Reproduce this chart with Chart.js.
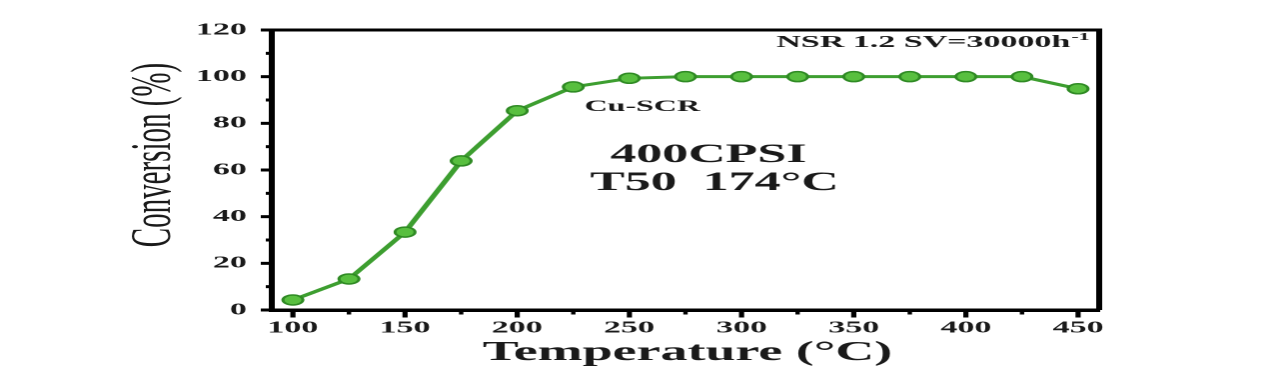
<!DOCTYPE html>
<html><head><meta charset="utf-8">
<script src="https://cdn.jsdelivr.net/npm/chart.js@4/dist/chart.umd.min.js"></script>
<style>
html,body{margin:0;padding:0;background:#fff;overflow:hidden;}
#wrap{position:absolute;left:0;top:0;width:634px;height:384px;transform:scaleX(1.99842);transform-origin:0 0;}
</style></head>
<body><div id="wrap"><canvas id="c"></canvas></div>
<script>
const temperatures = [100,125,150,175,200,225,250,275,300,325,350,375,400,425,450];
const conversion   = [4.3,13.3,33.4,63.9,85.4,95.6,99.3,100,100,100,100,100,100,100,94.8];
const xTickValues  = [100,125,150,175,200,225,250,275,300,325,350,375,400,425,450];
const xTickLabels  = ['100','150','200','250','300','350','400','450'];
const yTickValues  = [0,10,20,30,40,50,60,70,80,90,100,110,120];
const yTickLabels  = ['0','20','40','60','80','100','120'];
const xTitle = 'Temperature (°C)';
const yTitle = 'Conversion (%)';
const noteSV = 'NSR 1.2 SV=30000h';
const noteSup = '-1';
const seriesName = 'Cu-SCR';
const noteCPSI = '400CPSI';
const noteT50 = 'T50  174°C';

const SERIF = '"Liberation Serif","Times New Roman",serif';

const framePlugin = {
  id: 'frame',
  afterDraw(chart) {
    const ctx = chart.ctx, a = chart.chartArea;
    const xs = chart.scales.x, ys = chart.scales.y;
    ctx.save();
    ctx.strokeStyle = '#000';
    // top and right frame
    ctx.lineWidth = 3;
    ctx.beginPath(); ctx.moveTo(a.left, a.top); ctx.lineTo(a.right + 1.5, a.top); ctx.stroke();
    ctx.lineWidth = 3;
    ctx.beginPath(); ctx.moveTo(a.right, a.top); ctx.lineTo(a.right, a.bottom); ctx.stroke();
    // x ticks
    xTickValues.forEach(v => {
      const px = xs.getPixelForValue(v);
      const major = xTickLabels.includes(String(v));
      ctx.lineWidth = major ? 2.6 : 2.2;
      ctx.beginPath(); ctx.moveTo(px, a.bottom); ctx.lineTo(px, a.bottom + (major ? 7.5 : 4.5)); ctx.stroke();
    });
    // y ticks
    yTickValues.forEach(v => {
      const py = ys.getPixelForValue(v);
      const major = yTickLabels.includes(String(v));
      ctx.lineWidth = 3;
      ctx.beginPath(); ctx.moveTo(a.left, py); ctx.lineTo(a.left - (major ? 5.5 : 3), py); ctx.stroke();
    });
    // annotations
    ctx.fillStyle = '#1a1a1a';
    ctx.textBaseline = 'alphabetic';
    ctx.textAlign = 'left';
    ctx.font = 'bold 17px ' + SERIF;
    ctx.fillText(noteSV, 388.5, 47);
    const w = ctx.measureText(noteSV).width;
    ctx.font = 'bold 11px ' + SERIF;
    ctx.fillText(noteSup, 388.5 + w + 0.5, 40);
    ctx.font = 'bold 16px ' + SERIF;
    ctx.fillText(seriesName, 292.5, 111);
    ctx.textAlign = 'center';
    ctx.font = 'bold 26px ' + SERIF;
    ctx.fillText(noteCPSI, 354.5, 162);
    ctx.fillText(noteT50, 357.5, 190);
    // axis titles
    ctx.font = 'bold 27px ' + SERIF;
    ctx.fillText(xTitle, (a.left + a.right) / 2 + 1, 360);
    ctx.save();
    ctx.translate(85, 155);
    ctx.rotate(-Math.PI / 2);
    ctx.font = '29px ' + SERIF;
    ctx.fillText(yTitle, 0, 0);
    ctx.restore();
    ctx.restore();
  }
};

new Chart(document.getElementById('c'), {
  type: 'line',
  data: {
    datasets: [{
      label: seriesName,
      data: temperatures.map((t, i) => ({x: t, y: conversion[i]})),
      borderColor: '#3d9e30',
      borderWidth: 3,
      pointRadius: 5,
      pointBackgroundColor: '#58bf3f',
      pointBorderColor: '#2f8a24',
      pointBorderWidth: 1.5,
      tension: 0
    }]
  },
  options: {
    responsive: true,
    maintainAspectRatio: false,
    devicePixelRatio: 2,
    animation: false,
    layout: {padding: {left: 0, top: 30, right: 84, bottom: 0}},
    plugins: {legend: {display: false}, tooltip: {enabled: false}},
    scales: {
      x: {
        type: 'linear', min: 90.6, max: 459.4,
        afterFit(s) { s.height = 74; },
        afterBuildTicks(s) { s.ticks = xTickValues.map(v => ({value: v})); },
        ticks: {
          autoSkip: false, maxRotation: 0, padding: 2,
          color: '#1a1a1a',
          font: {family: SERIF, weight: 'bold', size: 17},
          callback: v => xTickLabels.includes(String(v)) ? String(v) : ''
        },
        grid: {display: true, drawOnChartArea: false, drawTicks: true, tickLength: 6, tickColor: 'rgba(0,0,0,0)'},
        border: {display: true, color: '#000', width: 3.5}
      },
      y: {
        type: 'linear', min: 0, max: 120,
        afterFit(s) { s.width = 136; },
        afterBuildTicks(s) { s.ticks = yTickValues.map(v => ({value: v})); },
        ticks: {
          autoSkip: false, padding: 6.5,
          color: '#1a1a1a',
          font: {family: SERIF, weight: 'bold', size: 17},
          callback: v => yTickLabels.includes(String(v)) ? String(v) : ''
        },
        grid: {display: true, drawOnChartArea: false, drawTicks: true, tickLength: 6, tickColor: 'rgba(0,0,0,0)'},
        border: {display: true, color: '#000', width: 3}
      }
    }
  },
  plugins: [framePlugin]
});
</script>
</body></html>
